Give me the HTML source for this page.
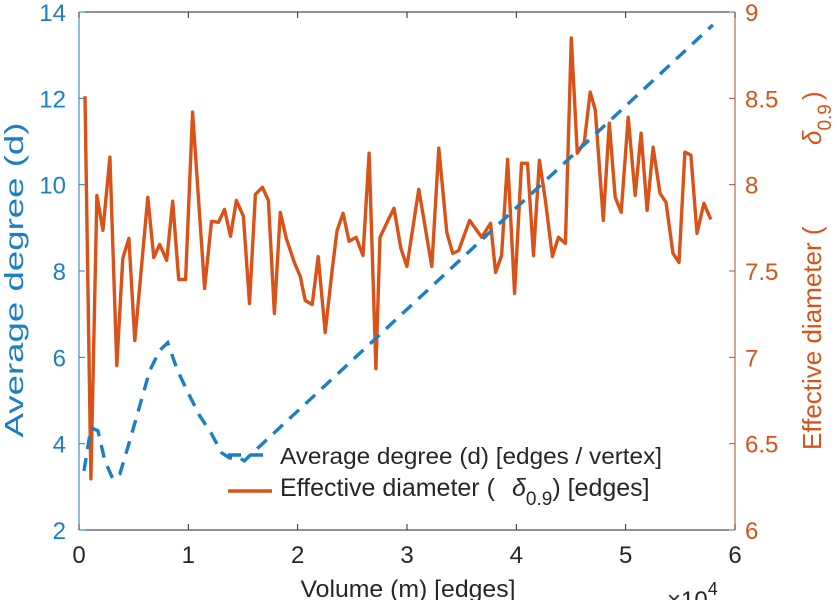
<!DOCTYPE html>
<html><head><meta charset="utf-8"><style>
body{margin:0;background:#fff;}
svg text{font-family:"Liberation Sans",sans-serif;}
</style></head><body>
<svg width="838" height="600" xmlns="http://www.w3.org/2000/svg">
<g id="plot"></g>
</svg>
<script>
const xTicks=[0,1,2,3,4,5,6];
const leftTicks=[2,4,6,8,10,12,14];
const rightTicks=[6,6.5,7,7.5,8,8.5,9];
const rightTickLabels=["6","6.5","7","7.5","8","8.5","9"];
const degX=[0.046,0.109,0.173,0.237,0.310,0.374,0.465,0.556,0.647,0.738,0.811,0.902,1.012,1.103,1.212,1.303,1.376,1.468,1.513,1.559,5.798];
const degY=[3.37,4.37,4.30,3.60,3.18,3.30,4.07,4.88,5.69,6.16,6.34,5.69,5.11,4.65,4.23,3.79,3.67,3.67,3.60,3.72,13.70];
const diaX=[0.055,0.109,0.164,0.219,0.283,0.346,0.401,0.456,0.510,0.629,0.684,0.738,0.802,0.857,0.912,0.975,1.039,1.149,1.212,1.276,1.331,1.386,1.440,1.504,1.559,1.613,1.677,1.732,1.787,1.841,1.896,1.969,2.024,2.069,2.133,2.188,2.252,2.315,2.361,2.416,2.470,2.534,2.598,2.653,2.716,2.753,2.826,2.881,2.944,2.999,3.108,3.227,3.291,3.364,3.418,3.473,3.573,3.683,3.765,3.810,3.865,3.920,3.984,4.047,4.102,4.157,4.211,4.266,4.330,4.385,4.449,4.503,4.558,4.622,4.676,4.722,4.795,4.850,4.904,4.959,5.023,5.087,5.141,5.196,5.251,5.314,5.369,5.433,5.488,5.542,5.597,5.652,5.716,5.779];
const diaY=[8.513,6.296,7.938,7.735,8.159,6.952,7.573,7.689,7.097,7.927,7.579,7.654,7.561,7.904,7.451,7.451,8.420,7.399,7.788,7.782,7.857,7.701,7.909,7.817,7.312,7.944,7.985,7.909,7.254,7.840,7.689,7.550,7.468,7.329,7.306,7.584,7.143,7.503,7.735,7.834,7.672,7.695,7.590,8.182,6.934,7.695,7.793,7.863,7.631,7.526,7.973,7.526,8.211,7.724,7.602,7.619,7.793,7.695,7.776,7.492,7.590,8.147,7.370,8.124,8.124,7.590,8.141,7.909,7.584,7.695,7.660,8.850,8.182,8.246,8.536,8.432,7.793,8.356,7.927,7.840,8.391,7.938,8.298,7.851,8.217,7.950,7.898,7.602,7.550,8.188,8.171,7.718,7.892,7.799];

const L=79,R=735,T=12,B=530;
const sx=v=>L+(v-0)/6*(R-L);
const syL=v=>B-(v-2)/12*(B-T);
const syR=v=>B-(v-6)/3*(B-T);
const NS="http://www.w3.org/2000/svg";
const g=document.getElementById('plot');
function mk(tag,attrs,txt){const e=document.createElementNS(NS,tag);for(const k in attrs)e.setAttribute(k,attrs[k]);if(txt!==undefined)e.textContent=txt;g.appendChild(e);return e;}

const BLUE='#1a7fc4', ORANGE='#D95319';
let e;
e=mk('line',{x1:L,y1:T,x2:R,y2:T,stroke:'#262626','stroke-width':1});


e=mk('line',{x1:L,y1:B,x2:R,y2:B,stroke:'#262626','stroke-width':1});


e=mk('line',{x1:L,y1:T,x2:L,y2:B,stroke:BLUE,'stroke-width':1});


e=mk('line',{x1:R,y1:T,x2:R,y2:B,stroke:'#a0522d','stroke-width':1});



xTicks.forEach(v=>{
  const x=sx(v);
  e=mk('line',{x1:x,y1:B,x2:x,y2:B-6,stroke:'#262626'});
  
  
  e=mk('line',{x1:x,y1:T,x2:x,y2:T+6,stroke:'#262626'});
  
  
  e=mk('text',{x:x,y:B+33,'font-size':24,fill:'#262626','text-anchor':'middle'},String(v));
  
  
});
leftTicks.forEach(v=>{
  const y=syL(v);
  e=mk('line',{x1:L,y1:y,x2:L+6,y2:y,stroke:BLUE});
  
  
  e=mk('text',{x:L-13,y:y+9,'font-size':24,fill:BLUE,'text-anchor':'end'},String(v));
  
  
});
rightTicks.forEach((v,i)=>{
  const y=syR(v);
  e=mk('line',{x1:R,y1:y,x2:R-6,y2:y,stroke:'#a0522d'});
  
  
  e=mk('text',{x:R+10,y:y+9,'font-size':24,fill:ORANGE,'text-anchor':'start'},rightTickLabels[i]);
  
  
});

let d=diaX.map((v,i)=>(i?'L':'M')+sx(v).toFixed(1)+' '+syR(diaY[i]).toFixed(1)).join(' ');
e=mk('path',{d:d,fill:'none',stroke:ORANGE,'stroke-width':3.4,'stroke-linejoin':'round'});


d=degX.map((v,i)=>(i?'L':'M')+sx(v).toFixed(1)+' '+syL(degY[i]).toFixed(1)).join(' ');
e=mk('path',{d:d,fill:'none',stroke:BLUE,'stroke-width':3.4,'stroke-dasharray':'13 9'});



e=mk('rect',{x:275,y:443,width:395,height:62,fill:'#fff'});


e=mk('line',{x1:228,y1:455,x2:272,y2:455,stroke:BLUE,'stroke-width':3.4,'stroke-dasharray':'13 9'});


e=mk('text',{x:280,y:464,'font-size':23,fill:'#262626',textLength:382,lengthAdjust:'spacingAndGlyphs'},'Average degree (d) [edges / vertex]');


e=mk('line',{x1:228,y1:491,x2:272,y2:491,stroke:ORANGE,'stroke-width':3.4});


e=mk('text',{x:280,y:496,'font-size':25,fill:'#262626'});


e.innerHTML='Effective diameter (<tspan x="512" font-style="italic">δ</tspan><tspan font-size="19" dy="9">0.9</tspan><tspan dy="-9">) [edges]</tspan>';

e=mk('text',{x:408,y:597,'font-size':24,fill:'#262626','text-anchor':'middle',textLength:215,lengthAdjust:'spacingAndGlyphs'},'Volume (m) [edges]');


e=mk('text',{x:667,y:608,'font-size':24,fill:'#262626'});


e.innerHTML='×10<tspan font-size="18" dy="-13">4</tspan>';
e=mk('text',{x:0,y:0,'font-size':26,fill:BLUE,'text-anchor':'middle',textLength:315,lengthAdjust:'spacingAndGlyphs',transform:'translate(23,280) rotate(-90)'},'Average degree (d)');


e=mk('text',{x:0,y:0,'font-size':26,fill:ORANGE,transform:'translate(821,450) rotate(-90)'});


e.innerHTML='Effective diameter (<tspan x="305" font-style="italic">δ</tspan><tspan font-size="19" dy="10">0.9</tspan><tspan dy="-10" x="350">)</tspan>';
</script>
</body></html>
